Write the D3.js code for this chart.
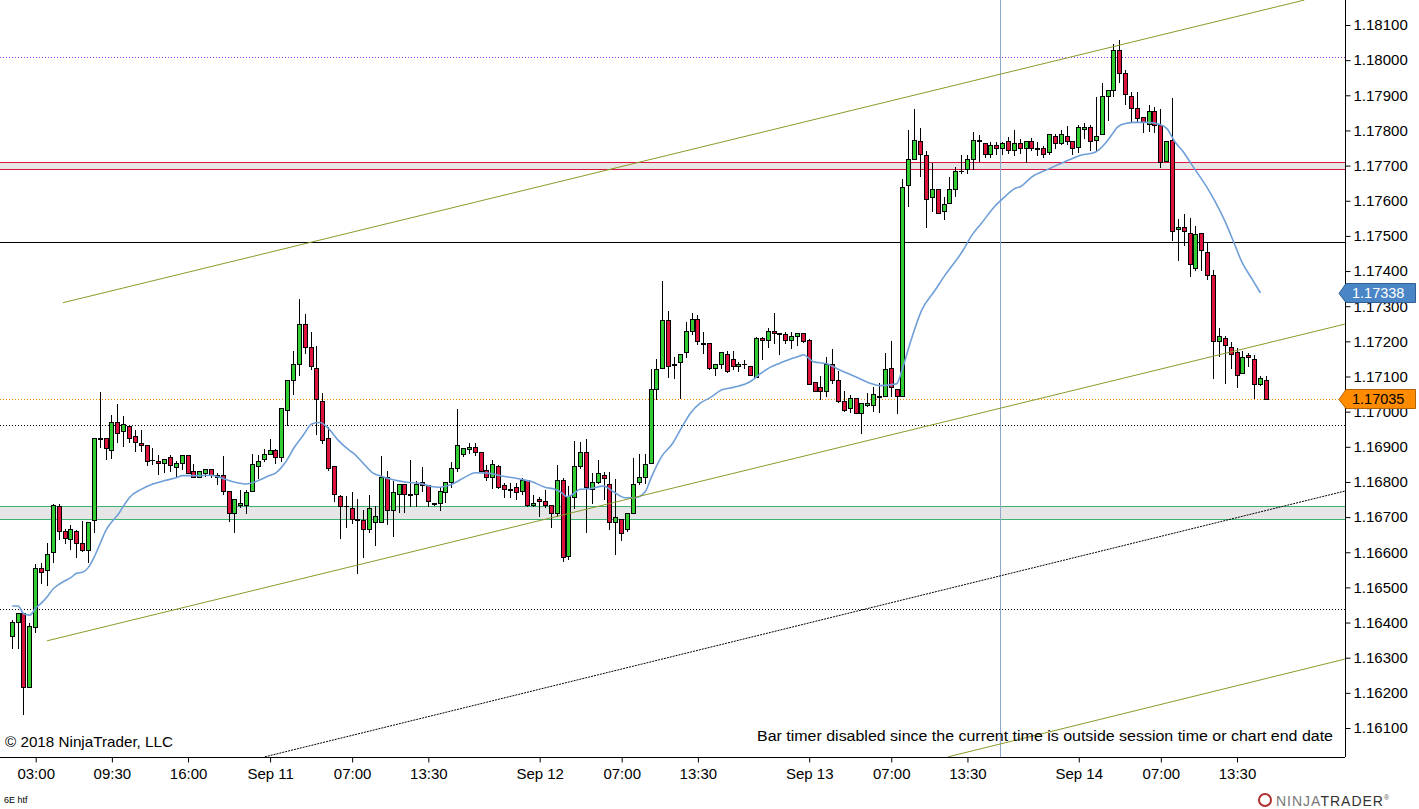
<!DOCTYPE html>
<html><head><meta charset="utf-8">
<script src="https://cdn.jsdelivr.net/npm/d3@7"></script>
<style>
body{margin:0;background:#fff;}
svg{display:block;}
text{font-family:Arial,"Liberation Sans",sans-serif;}
</style></head>
<body><svg id="chart" width="1419" height="809"></svg>
<script>
// ---------------- DATA ----------------
const openP = [1.16363,1.16402,1.16426,1.16216,1.16388,1.16554,1.16549,1.16600,1.16731,1.16660,1.16639,1.16660,1.16625,1.16607,1.16691,1.16924,1.16924,1.16890,1.16970,1.16944,
1.16958,1.16930,1.16911,1.16904,1.16863,1.16860,1.16853,1.16870,1.16843,1.16853,1.16876,1.16830,1.16813,1.16825,1.16838,1.16813,1.16819,1.16773,1.16713,1.16734,
1.16734,1.16773,1.16845,1.16864,1.16879,1.16890,1.16870,1.17004,1.17089,1.17135,1.17249,1.17183,1.17123,1.17029,1.16924,1.16845,1.16759,1.16732,1.16725,1.16694,
1.16691,1.16665,1.16685,1.16685,1.16813,1.16719,1.16765,1.16793,1.16765,1.16765,1.16799,1.16790,1.16739,1.16739,1.16771,1.16799,1.16839,1.16879,1.16893,1.16899,
1.16884,1.16833,1.16813,1.16845,1.16790,1.16779,1.16785,1.16773,1.16805,1.16734,1.16751,1.16745,1.16734,1.16711,1.16805,1.16589,1.16757,1.16845,1.16884,1.16779,
1.16799,1.16819,1.16793,1.16685,1.16694,1.16665,1.16711,1.16799,1.16813,1.16853,1.17064,1.17123,1.17260,1.17135,1.17140,1.17169,1.17229,1.17263,1.17194,1.17194,
1.17123,1.17135,1.17163,1.17149,1.17129,1.17135,1.17129,1.17098,1.17209,1.17203,1.17229,1.17223,1.17220,1.17203,1.17214,1.17223,1.17203,1.17084,1.17069,1.17058,
1.17135,1.17089,1.17029,1.17010,1.17038,1.16995,1.17018,1.17018,1.17044,1.17044,1.17123,1.17064,1.17044,1.17644,1.17718,1.17769,1.17729,1.17610,1.17633,1.17570,
1.17593,1.17633,1.17684,1.17690,1.17718,1.17772,1.17763,1.17732,1.17758,1.17749,1.17769,1.17743,1.17763,1.17749,1.17769,1.17749,1.17749,1.17738,1.17783,1.17763,
1.17783,1.17769,1.17752,1.17803,1.17809,1.17772,1.17789,1.17897,1.17914,1.18028,1.17963,1.17898,1.17863,1.17837,1.17818,1.17855,1.17815,1.17712,1.17772,1.17519,
1.17525,1.17507,1.17408,1.17507,1.17453,1.17388,1.17200,1.17209,1.17183,1.17169,1.17109,1.17160,1.17149,1.17078,1.17089];
const highP = [1.16407,1.16428,1.16426,1.16398,1.16567,1.16569,1.16625,1.16736,1.16736,1.16665,1.16678,1.16663,1.16689,1.16685,1.16924,1.17057,1.16925,1.16990,1.17021,1.16988,
1.16958,1.16948,1.16947,1.16904,1.16896,1.16876,1.16864,1.16876,1.16859,1.16876,1.16876,1.16851,1.16831,1.16838,1.16838,1.16826,1.16873,1.16773,1.16751,1.16777,
1.16777,1.16879,1.16876,1.16893,1.16921,1.16893,1.17010,1.17089,1.17172,1.17320,1.17277,1.17226,1.17186,1.17052,1.16956,1.16845,1.16762,1.16759,1.16771,1.16751,
1.16719,1.16762,1.16731,1.16873,1.16830,1.16802,1.16793,1.16793,1.16862,1.16803,1.16842,1.16790,1.16741,1.16785,1.16799,1.16856,1.17007,1.16896,1.16910,1.16910,
1.16884,1.16847,1.16862,1.16847,1.16796,1.16796,1.16796,1.16810,1.16805,1.16762,1.16756,1.16776,1.16734,1.16847,1.16810,1.16788,1.16916,1.16913,1.16921,1.16825,
1.16862,1.16827,1.16827,1.16808,1.16694,1.16711,1.16867,1.16879,1.16879,1.17120,1.17149,1.17371,1.17286,1.17155,1.17163,1.17255,1.17280,1.17274,1.17226,1.17194,
1.17135,1.17169,1.17172,1.17172,1.17142,1.17146,1.17129,1.17212,1.17212,1.17237,1.17280,1.17224,1.17226,1.17226,1.17223,1.17223,1.17206,1.17084,1.17101,1.17155,
1.17177,1.17115,1.17058,1.17047,1.17038,1.17024,1.17052,1.17069,1.17081,1.17166,1.17200,1.17064,1.17662,1.17800,1.17860,1.17806,1.17741,1.17707,1.17633,1.17610,
1.17667,1.17695,1.17729,1.17729,1.17795,1.17786,1.17763,1.17766,1.17766,1.17767,1.17780,1.17800,1.17775,1.17769,1.17778,1.17766,1.17755,1.17789,1.17789,1.17800,
1.17812,1.17769,1.17815,1.17820,1.17815,1.17894,1.17934,1.17914,1.18045,1.18056,1.17972,1.17910,1.17910,1.17837,1.17872,1.17866,1.17860,1.17769,1.17892,1.17547,
1.17561,1.17550,1.17527,1.17507,1.17482,1.17402,1.17237,1.17214,1.17197,1.17180,1.17172,1.17166,1.17160,1.17101,1.17101];
const lowP = [1.16328,1.16328,1.16139,1.16216,1.16374,1.16513,1.16508,1.16573,1.16638,1.16627,1.16608,1.16587,1.16603,1.16573,1.16658,1.16899,1.16864,1.16869,1.16915,1.16903,
1.16915,1.16889,1.16889,1.16849,1.16852,1.16823,1.16829,1.16832,1.16813,1.16838,1.16825,1.16813,1.16813,1.16818,1.16813,1.16793,1.16765,1.16689,1.16658,1.16730,
1.16711,1.16773,1.16812,1.16859,1.16879,1.16853,1.16859,1.16961,1.17049,1.17103,1.17166,1.17120,1.16936,1.16910,1.16833,1.16745,1.16640,1.16673,1.16682,1.16540,
1.16586,1.16658,1.16620,1.16685,1.16680,1.16645,1.16714,1.16714,1.16731,1.16731,1.16773,1.16731,1.16735,1.16719,1.16742,1.16785,1.16830,1.16874,1.16882,1.16877,
1.16830,1.16805,1.16784,1.16782,1.16758,1.16758,1.16752,1.16765,1.16731,1.16731,1.16704,1.16728,1.16673,1.16702,1.16574,1.16580,1.16725,1.16840,1.16657,1.16739,
1.16796,1.16751,1.16665,1.16594,1.16634,1.16660,1.16711,1.16794,1.16796,1.16853,1.17035,1.17123,1.17098,1.17095,1.17038,1.17155,1.17220,1.17192,1.17166,1.17120,
1.17103,1.17123,1.17112,1.17120,1.17115,1.17123,1.17103,1.17098,1.17149,1.17183,1.17194,1.17163,1.17194,1.17180,1.17190,1.17197,1.17078,1.17058,1.17035,1.17044,
1.17081,1.17027,1.17001,1.16998,1.16995,1.16938,1.17016,1.17002,1.16998,1.17044,1.17044,1.16995,1.17044,1.17584,1.17718,1.17670,1.17526,1.17570,1.17564,1.17547,
1.17593,1.17613,1.17678,1.17678,1.17690,1.17712,1.17724,1.17724,1.17732,1.17732,1.17737,1.17729,1.17737,1.17711,1.17744,1.17729,1.17724,1.17732,1.17749,1.17761,
1.17761,1.17732,1.17738,1.17778,1.17743,1.17743,1.17789,1.17829,1.17897,1.17937,1.17874,1.17823,1.17823,1.17795,1.17798,1.17795,1.17697,1.17712,1.17488,1.17432,
1.17473,1.17385,1.17402,1.17402,1.17377,1.17095,1.17157,1.17081,1.17123,1.17069,1.17109,1.17129,1.17038,1.17075,1.17035];
const closeP = [1.16401,1.16426,1.16216,1.16389,1.16554,1.16545,1.16595,1.16734,1.16660,1.16640,1.16665,1.16627,1.16606,1.16685,1.16924,1.16922,1.16896,1.16970,1.16938,1.16964,
1.16924,1.16915,1.16904,1.16859,1.16862,1.16853,1.16864,1.16849,1.16853,1.16876,1.16825,1.16813,1.16830,1.16838,1.16819,1.16819,1.16773,1.16711,1.16751,1.16739,
1.16771,1.16850,1.16859,1.16879,1.16890,1.16870,1.17010,1.17089,1.17135,1.17249,1.17183,1.17129,1.17035,1.16918,1.16839,1.16765,1.16731,1.16731,1.16694,1.16693,
1.16665,1.16725,1.16703,1.16813,1.16719,1.16771,1.16793,1.16765,1.16764,1.16793,1.16790,1.16745,1.16738,1.16773,1.16799,1.16839,1.16904,1.16896,1.16899,1.16884,
1.16830,1.16813,1.16850,1.16785,1.16779,1.16778,1.16771,1.16805,1.16734,1.16739,1.16745,1.16734,1.16711,1.16805,1.16586,1.16759,1.16845,1.16884,1.16785,1.16799,
1.16825,1.16810,1.16685,1.16699,1.16654,1.16711,1.16793,1.16813,1.16850,1.17064,1.17120,1.17260,1.17129,1.17134,1.17163,1.17229,1.17263,1.17200,1.17193,1.17123,
1.17135,1.17169,1.17115,1.17129,1.17135,1.17136,1.17103,1.17209,1.17203,1.17229,1.17223,1.17222,1.17203,1.17214,1.17223,1.17200,1.17078,1.17058,1.17058,1.17135,
1.17089,1.17029,1.17004,1.17038,1.16995,1.17024,1.17024,1.17049,1.17043,1.17120,1.17069,1.17044,1.17638,1.17718,1.17772,1.17732,1.17604,1.17633,1.17564,1.17590,
1.17633,1.17684,1.17685,1.17718,1.17772,1.17771,1.17732,1.17758,1.17749,1.17763,1.17743,1.17763,1.17749,1.17769,1.17749,1.17748,1.17732,1.17789,1.17763,1.17789,
1.17769,1.17749,1.17809,1.17809,1.17769,1.17783,1.17897,1.17914,1.18028,1.17963,1.17903,1.17863,1.17835,1.17823,1.17855,1.17815,1.17709,1.17769,1.17513,1.17525,
1.17513,1.17419,1.17505,1.17459,1.17388,1.17200,1.17214,1.17189,1.17163,1.17103,1.17155,1.17155,1.17078,1.17095,1.17035];

// moving average (blue): bar position -> value
const maBar = [0,1,2,3,4,5,6,7,8,9,10,11,12,13,14,15,16,17,18,19,20,22,24,26,28,29,31.5,34,35.5,36.6,38,40,42,43.7,45,46.5,48.2,49.7,51.1,52.5,53.9,55.6,57.6,58.2,59.9,61.6,62.8,65,67.3,69.6,71.3,73,74.7,77.2,79,81.2,83.5,86.4,88.6,90.9,92.6,93.8,94.6,95.5,96.9,98.6,100.9,102.6,104.6,106.3,108,109.1,110.8,112.7,114.2,115.7,117.4,119.1,121.1,123,125.9,127.6,129.3,131,132.7,134.4,135,136.7,139,141.3,144.1,146.4,148.1,150.9,152,153.2,155.2,157.5,159.2,162.1,163.8,165.4,167.6,169.4,171.1,172,174,176.8,179.6,182.5,184.8,186.5,187.6,188.7,190,191.6,193.9,195.6,197,198.4,199.8,201.3,203.8,205.3,207,208.4,209.8,211.5,213];
const maVal = [1.16447,1.16447,1.16424,1.16421,1.16441,1.16456,1.16474,1.16496,1.16509,1.16519,1.16528,1.16540,1.16543,1.16557,1.16587,1.16625,1.16663,1.16687,1.16706,1.16732,1.16756,1.16779,1.16794,1.16804,1.16812,1.16818,1.16818,1.16819,1.16813,1.16806,1.16799,1.16794,1.16804,1.16817,1.16826,1.16853,1.16900,1.16934,1.16965,1.16969,1.16953,1.16919,1.16889,1.16882,1.16853,1.16825,1.16817,1.16806,1.16799,1.16796,1.16788,1.16785,1.16791,1.16813,1.16826,1.16825,1.16817,1.16809,1.16801,1.16785,1.16779,1.16769,1.16758,1.16763,1.16779,1.16781,1.16788,1.16772,1.16755,1.16755,1.16772,1.16815,1.16872,1.16910,1.16954,1.16995,1.17024,1.17040,1.17062,1.17069,1.17085,1.17107,1.17126,1.17138,1.17149,1.17158,1.17162,1.17142,1.17136,1.17118,1.17098,1.17081,1.17074,1.17079,1.17128,1.17194,1.17289,1.17346,1.17389,1.17455,1.17503,1.17536,1.17583,1.17612,1.17635,1.17640,1.17668,1.17690,1.17711,1.17730,1.17738,1.17763,1.17787,1.17811,1.17820,1.17823,1.17823,1.17818,1.17806,1.17768,1.17740,1.17702,1.17640,1.17597,1.17540,1.17484,1.17427,1.17379,1.17338];

// x-axis labels and the bar they sit on
const xTickBar   = [4,17,30,44,58,71,90,104,117,136,150,163,182,196,209];
const xTickLabel = ["03:00","09:30","16:00","Sep 11","07:00","13:30","Sep 12","07:00","13:30","Sep 13","07:00","13:30","Sep 14","07:00","13:30"];
// price axis labels
const yTicks = [1.161,1.162,1.163,1.164,1.165,1.166,1.167,1.168,1.169,1.170,1.171,1.172,1.173,1.174,1.175,1.176,1.177,1.178,1.179,1.180,1.181];

// drawn horizontal levels
const hLevelPrice = [1.18008, 1.17484, 1.16962, 1.16438, 1.17035];
const hLevelColor = ["#9b30ff", "#000000", "#000000", "#000000", "#ff8c00"];
const hLevelDash  = ["1,2", null, "1,2", "1,2", "1,2"];
// zones (rectangles) : low, high, edge colour
const zoneLow  = [1.17690, 1.16694];
const zoneHigh = [1.17709, 1.16731];
const zoneEdge = ["#dc143c", "#3cb371"];
// trend lines: start bar/price, end bar/price
const tlBar0   = [8.66, 5.93, 159.7, 43.1];
const tlPrice0 = [1.17310, 1.16348, 1.16018, 1.16018];
const tlBar1   = [220.5, 227.4, 227.4, 227.4];
const tlPrice1 = [1.18171, 1.17249, 1.16296, 1.16774];
const tlColor  = ["#8a9a2a", "#8a9a2a", "#8a9a2a", "#000000"];
const tlDash   = [null, null, null, "2,1"];
// vertical marker line (between bars)
const vLineBar = 168.5;
// price markers on axis
const markerPrice = [1.17338, 1.17035];
const markerFill  = ["#4a86c5", "#ff8c00"];
const markerText  = ["#ffffff", "#000000"];

// ---------------- DRAW ----------------
const svg = d3.select("#chart");
const plotRight = 1345, plotBottom = 757;
const x = d3.scaleLinear().domain([0, 214]).range([12.26, 1266.3]);
const y = d3.scaleLinear().domain([1.161, 1.181]).range([728, 25]);

svg.append("defs").append("clipPath").attr("id","plot")
  .append("rect").attr("x",0).attr("y",0).attr("width",plotRight).attr("height",plotBottom);
const plot = svg.append("g").attr("clip-path","url(#plot)");

// zones
zoneLow.forEach((lo,i)=>{
  plot.append("rect").attr("x",0).attr("width",plotRight)
    .attr("y", y(zoneHigh[i])).attr("height", y(lo)-y(zoneHigh[i]))
    .attr("fill","#e6e6e6");
  [lo, zoneHigh[i]].forEach(p=>{
    plot.append("line").attr("x1",0).attr("x2",plotRight)
      .attr("y1",Math.round(y(p))+0.5).attr("y2",Math.round(y(p))+0.5)
      .attr("stroke",zoneEdge[i]).attr("stroke-width",1);
  });
});

// horizontal levels
hLevelPrice.forEach((p,i)=>{
  const yy = Math.round(y(p))+0.5;
  const l = plot.append("line").attr("x1",0).attr("x2",plotRight).attr("y1",yy).attr("y2",yy)
    .attr("stroke",hLevelColor[i]).attr("stroke-width",1);
  if (hLevelDash[i]) l.attr("stroke-dasharray",hLevelDash[i]);
});

// vertical line
plot.append("line").attr("x1",Math.round(x(vLineBar))+0.5).attr("x2",Math.round(x(vLineBar))+0.5)
  .attr("y1",0).attr("y2",plotBottom).attr("stroke","#8fa8d0").attr("stroke-width",1);

// candles
const idx = d3.range(openP.length);
const cg = plot.append("g");
idx.forEach(i=>{
  const cx = Math.floor(x(i));
  const o = openP[i], c = closeP[i];
  cg.append("line").attr("x1",cx+0.5).attr("x2",cx+0.5)
    .attr("y1",Math.round(y(highP[i]))).attr("y2",Math.round(y(lowP[i]))+1)
    .attr("stroke","#000").attr("stroke-width",1);
  const top = Math.round(y(Math.max(o,c))), bot = Math.round(y(Math.min(o,c)));
  if (bot - top < 1) {
    cg.append("line").attr("x1",cx-2).attr("x2",cx+3).attr("y1",top+0.5).attr("y2",top+0.5)
      .attr("stroke","#000").attr("stroke-width",1);
  } else {
    cg.append("rect").attr("x",cx-2+0.5).attr("y",top+0.5).attr("width",4).attr("height",bot-top)
      .attr("fill", c>=o ? "#32cd32" : "#dc143c").attr("stroke","#000").attr("stroke-width",1);
  }
});

// moving average
plot.append("path")
  .datum(maBar.map((b,i)=>[b,maVal[i]]))
  .attr("fill","none").attr("stroke","#6f9fd8").attr("stroke-width",1.6)
  .attr("d", d3.line().x(d=>x(d[0])).y(d=>y(d[1])).curve(d3.curveMonotoneX));

// trend lines
tlBar0.forEach((b,i)=>{
  const l = plot.append("line").attr("x1",x(b)).attr("y1",y(tlPrice0[i]))
    .attr("x2",x(tlBar1[i])).attr("y2",y(tlPrice1[i]))
    .attr("stroke",tlColor[i]).attr("stroke-width",1);
  if (tlDash[i]) l.attr("stroke-dasharray",tlDash[i]);
});

// axes
const yAxis = d3.axisRight(y).tickValues(yTicks).tickFormat(d3.format(".5f")).tickSize(5).tickPadding(3);
const gy = svg.append("g").attr("transform",`translate(${plotRight+0.5},0)`).call(yAxis);
gy.select(".domain").attr("d",`M0,0V${plotBottom}`);
gy.selectAll("text").attr("font-size",15).attr("fill","#000").attr("font-family","Arial, 'Liberation Sans', sans-serif");

const xAxis = d3.axisBottom(x).tickValues(xTickBar).tickFormat((d,i)=>xTickLabel[i]).tickSize(5).tickPadding(6);
const gx = svg.append("g").attr("transform",`translate(0,${plotBottom+0.5})`).call(xAxis);
gx.select(".domain").attr("d",`M0,0H${plotRight}`);
gx.selectAll("text").attr("font-size",15).attr("fill","#000").attr("font-family","Arial, 'Liberation Sans', sans-serif");

// price markers
markerPrice.forEach((p,i)=>{
  const yy = Math.round(y(p));
  const g = svg.append("g");
  g.append("path").attr("d",`M${plotRight-6},${yy+0.5} L${plotRight+1},${yy-9.5} L1415.5,${yy-9.5} L1415.5,${yy+9.5} L${plotRight+1},${yy+9.5} Z`)
    .attr("fill",markerFill[i]).attr("stroke", i===0?"#2f5f93":"#b36200").attr("stroke-width",1);
  g.append("text").attr("x",1352).attr("y",yy+5).attr("font-size",14.5).attr("fill",markerText[i]).text(d3.format(".5f")(p));
});

// texts
svg.append("text").attr("x",5).attr("y",747).attr("font-size",15).attr("fill","#000")
  .attr("textLength",168).attr("lengthAdjust","spacingAndGlyphs").text("© 2018 NinjaTrader, LLC");
svg.append("text").attr("x",757).attr("y",741).attr("font-size",15.5).attr("fill","#000")
  .attr("textLength",576).attr("lengthAdjust","spacingAndGlyphs")
  .text("Bar timer disabled since the current time is outside session time or chart end date");
svg.append("text").attr("x",4).attr("y",803).attr("font-size",9).attr("fill","#000").text("6E htf");

// logo
const lg = svg.append("g");
lg.append("circle").attr("cx",1265).attr("cy",800).attr("r",6).attr("fill","none").attr("stroke","#b03030").attr("stroke-width",2);
lg.append("text").attr("x",1276).attr("y",806).attr("font-size",14).attr("letter-spacing",1).attr("fill","#555")
  .html('<tspan fill="#777">NINJA</tspan><tspan fill="#333">TRADER</tspan><tspan font-size="7" dy="-6">®</tspan>');
</script></body></html>
